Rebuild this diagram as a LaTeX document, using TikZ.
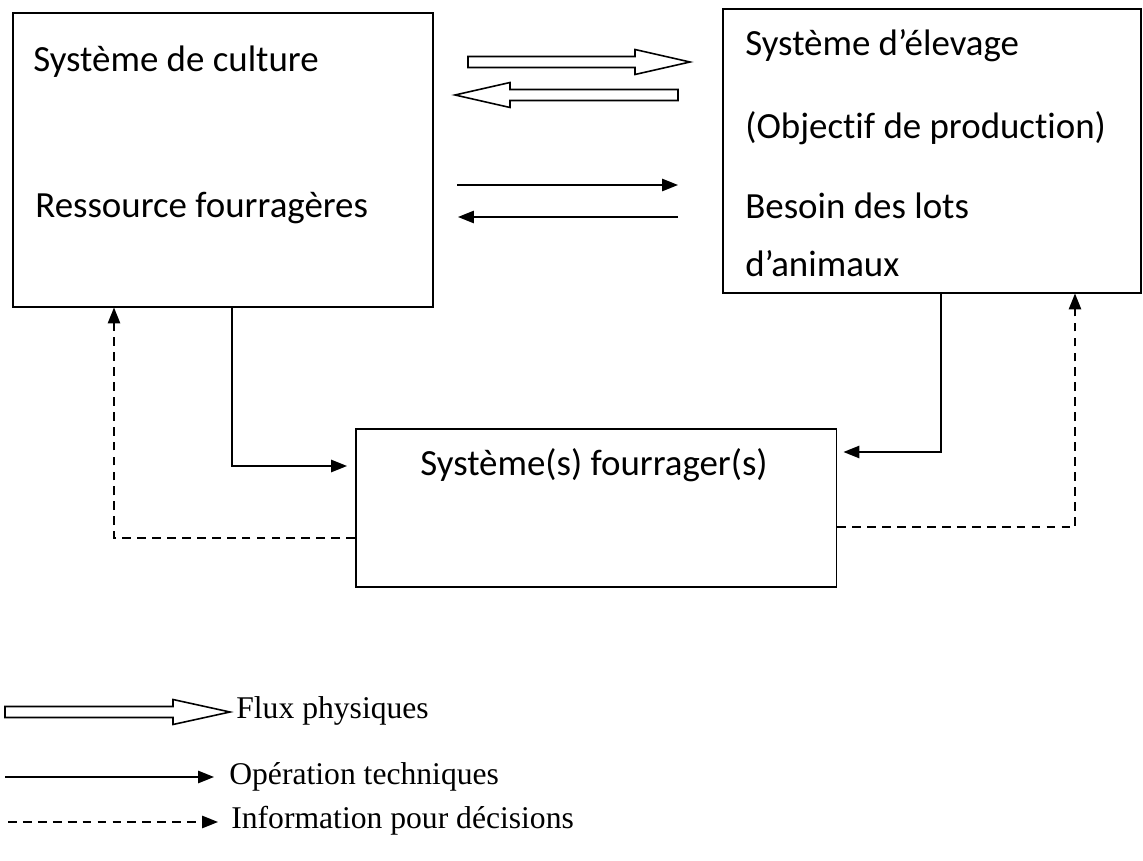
\documentclass[tikz,border=0pt]{standalone}
\usepackage{fontspec}
\setmainfont{Liberation Serif}
\newfontfamily\boxfont[Ligatures=CommonOff]{Carlito}
\usetikzlibrary{arrows.meta}

\tikzset{
    bloc/.style={draw=black, line width=0.9pt, anchor=north west, inner sep=0pt},
    boxtext/.style={anchor=west, inner sep=0pt, font=\boxfont\fontsize{21}{25}\selectfont},
    legtext/.style={anchor=west, inner sep=0pt, font=\fontsize{18}{22}\selectfont},
    ops/.style={line width=0.9pt, -{Triangle[length=9pt,width=7pt]}},
    info/.style={line width=0.9pt, dashed, dash pattern=on 5pt off 3.5pt, -{Triangle[length=9pt,width=7pt]}},
    flux/.style={draw=black, line width=0.9pt, line join=miter}
}

% hollow arrow: start x, tip x, y, head base x
\newcommand{\fluxarrow}[4]{%
    \draw[flux] (#1,#3-5.5) -- (#4,#3-5.5) -- (#4,#3-12.5) -- (#2,#3)
        -- (#4,#3+12.5) -- (#4,#3+5.5) -- (#1,#3+5.5) -- cycle;}

\begin{document}
\begin{tikzpicture}[x=0.02cm, y=-0.02cm]
    \useasboundingbox (0,0) rectangle (1143,861);

    % boxes
    \node[bloc, minimum width=8.4cm, minimum height=5.88cm] (culture) at (12,12) {};
    \node[bloc, minimum width=8.36cm, minimum height=5.68cm] (elevage) at (722,8) {};
    \node[bloc, minimum width=9.62cm, minimum height=3.16cm] (fourrager) at (355,428) {};

    \node[boxtext] (t1) at (33,62) {Système de culture};
    \node[boxtext] (t2) at (35,208) {Ressource fourragères};
    \node[boxtext] (t3) at (745,46) {Système d’élevage};
    \node[boxtext] (t4) at (745,128) {(Objectif de production)};
    \node[boxtext] (t5) at (745,206) {Besoin des lots};
    \node[boxtext] (t6) at (745,264) {d’animaux};
    \node[boxtext, anchor=center] (t7) at (594,465) {Système(s) fourrager(s)};

    % exchanges between the two systems
    \fluxarrow{468}{690}{62}{635}
    \fluxarrow{678}{455}{95}{510}
    \coordinate (o1) at (457,185);
    \coordinate (o2) at (678,185);
    \coordinate (o3) at (678,217);
    \coordinate (o4) at (458,217);
    \draw[ops] (o1) -- (o2);
    \draw[ops] (o3) -- (o4);

    % links with the forage system
    \draw[ops, shorten >=8pt*0.567] (culture.south -| 232,0) |- (fourrager.west |- 0,466);
    \draw[ops, shorten >=6pt*0.567] (elevage.south -| 941,0) |- (fourrager.east |- 0,452);
    \draw[info] (fourrager.west |- 0,538) -| (culture.south -| 114,0);
    \draw[info] (fourrager.east |- 0,527) -| (elevage.south -| 1075,0);

    % legend
    \fluxarrow{5}{230}{712}{173}
    \node[legtext] (l1) at (236,711) {Flux physiques};
    \coordinate (a1) at (5,777);
    \coordinate (a2) at (214,777);
    \draw[ops] (a1) -- (a2);
    \node[legtext] (l2) at (229,777) {Opération techniques};
    \coordinate (b1) at (8,822);
    \coordinate (b2) at (218,822);
    \draw[info] (b1) -- (b2);
    \node[legtext] (l3) at (231,821) {Information pour décisions};
\end{tikzpicture}
\end{document}
